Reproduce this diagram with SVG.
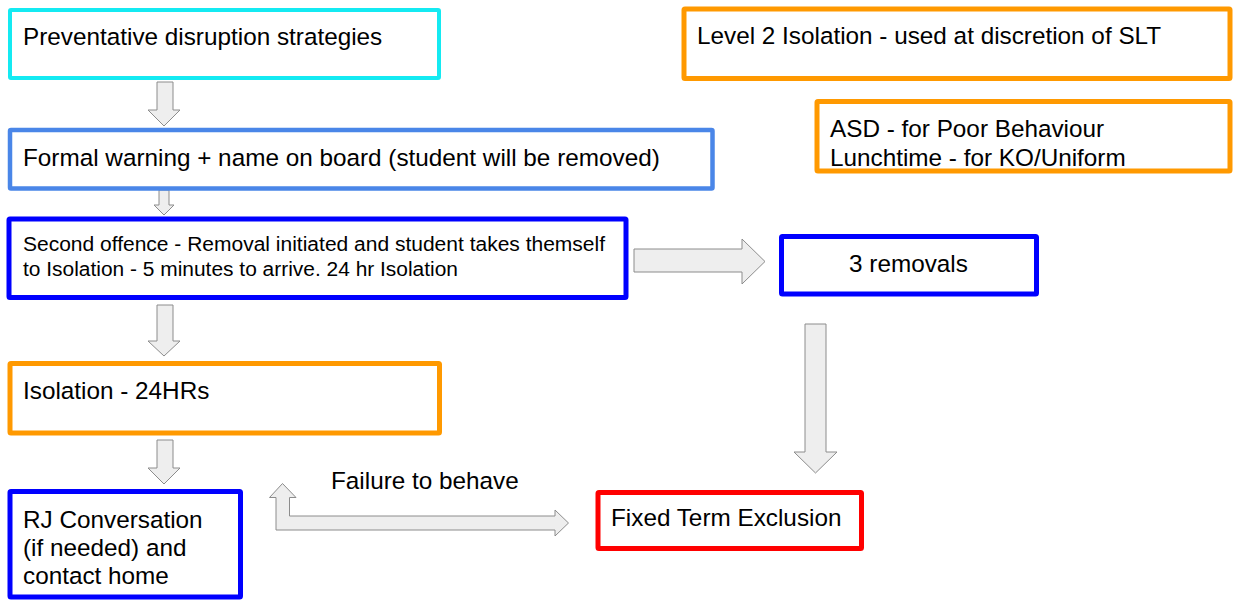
<svg xmlns="http://www.w3.org/2000/svg" width="1236" height="600" viewBox="0 0 1236 600">
<style>
  .box { fill: #ffffff; stroke-linejoin: round; }
  .cyan { stroke: #14eaf2; stroke-width: 4; }
  .lblue { stroke: #4a86e8; stroke-width: 4.5; }
  .dblue { stroke: #0000ff; stroke-width: 5; }
  .orange { stroke: #ff9900; stroke-width: 5; }
  .red { stroke: #ff0000; stroke-width: 5; }
  .t { font-family: "Liberation Sans", Arial, sans-serif; font-size: 24.3px; fill: #000000; }
  .t2 { font-family: "Liberation Sans", Arial, sans-serif; font-size: 20px; fill: #000000; }
  .arrow { fill: #eeeeee; stroke: #8c8c8c; stroke-width: 1; stroke-linejoin: miter; }
</style>
<rect width="1236" height="600" fill="#ffffff"/>

<g id="connectors">
  <path class="arrow" d="M157 82 H173 V110 H180 L164 126 L148 110 H157 Z"/>
  <path class="arrow" d="M159 190 H169 V205 H174 L164 215 L154 205 H159 Z"/>
  <path class="arrow" d="M157 305 H173 V341 H180 L164 356 L148 341 H157 Z"/>
  <path class="arrow" d="M157 440 H173 V468 H180 L164 484 L148 468 H157 Z"/>
  <path class="arrow" d="M634 249 H742 V239 L765 261.5 L742 284 V272 H634 Z"/>
  <path class="arrow" d="M805 324 H826 V452 H837 L815.5 473 L794 452 H805 Z"/>
  <path class="arrow" d="M282.5 483.5 L296 497.5 H289.5 V516 H555 V510 L568.5 523 L555 536 V530 H276 V497.5 H269.5 Z"/>
  <text class="t" x="331" y="489">Failure to behave</text>
</g>

<g id="preventative">
  <rect class="box cyan" x="10" y="10" width="429" height="68" rx="1"/>
  <text class="t" x="23" y="45">Preventative disruption strategies</text>
</g>

<g id="formal-warning">
  <rect class="box lblue" x="10" y="130" width="702.5" height="58.5" rx="1"/>
  <text class="t" x="23" y="166">Formal warning + name on board (student will be removed)</text>
</g>

<g id="second-offence">
  <rect class="box dblue" x="9" y="219" width="617" height="78.5" rx="1"/>
  <text class="t2" x="23" y="251" textLength="582" lengthAdjust="spacingAndGlyphs">Second offence - Removal initiated and student takes themself</text>
  <text class="t2" x="23" y="275.5" textLength="435" lengthAdjust="spacingAndGlyphs">to Isolation - 5 minutes to arrive. 24 hr Isolation</text>
</g>

<g id="three-removals">
  <rect class="box dblue" x="781.5" y="236.5" width="255" height="57.5" rx="1"/>
  <text class="t" x="908.5" y="272" text-anchor="middle">3 removals</text>
</g>

<g id="isolation">
  <rect class="box orange" x="10" y="363.5" width="429.5" height="69.5" rx="1"/>
  <text class="t" x="23" y="399">Isolation - 24HRs</text>
</g>

<g id="rj-conversation">
  <rect class="box dblue" x="10" y="491.5" width="230.5" height="105.5" rx="1"/>
  <text class="t" x="23" y="528">RJ Conversation</text>
  <text class="t" x="23" y="556">(if needed) and</text>
  <text class="t" x="23" y="584">contact home</text>
</g>

<g id="fixed-term">
  <rect class="box red" x="598" y="492.5" width="263.5" height="56" rx="1"/>
  <text class="t" x="611" y="526">Fixed Term Exclusion</text>
</g>

<g id="level2">
  <rect class="box orange" x="684" y="9" width="546" height="69.5" rx="1"/>
  <text class="t" x="697" y="44">Level 2 Isolation - used at discretion of SLT</text>
</g>

<g id="asd">
  <rect class="box orange" x="817" y="101.5" width="413" height="69.5" rx="1"/>
  <text class="t" x="830" y="137">ASD - for Poor Behaviour</text>
  <text class="t" x="830" y="165.5">Lunchtime - for KO/Uniform</text>
</g>
</svg>
